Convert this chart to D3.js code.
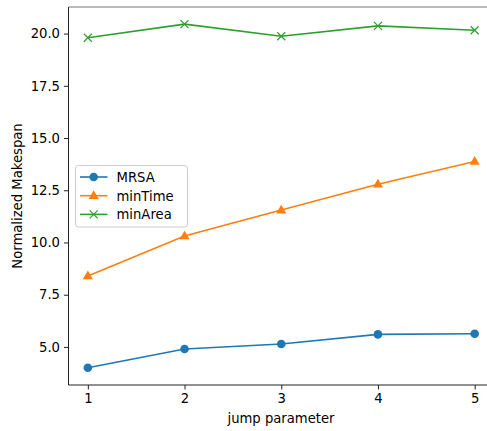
<!DOCTYPE html>
<html>
<head>
<meta charset="utf-8">
<script src="https://cdn.jsdelivr.net/npm/d3@7"></script>
<style>
  html, body { margin: 0; padding: 0; background: #fff; }
  svg { display: block; font-family: "DejaVu Sans", sans-serif; }
</style>
</head>
<body>
<svg id="chart" width="487" height="431"></svg>
<script>
// Jump parameter values on the x axis
const jumps = [1, 2, 3, 4, 5];
// Normalized makespan for each method
const mrsa    = [4.00, 4.90, 5.14, 5.60, 5.63];
const minTime = [8.40, 10.31, 11.55, 12.79, 13.88];
const minArea = [19.80, 20.45, 19.87, 20.37, 20.16];

const xTicks = [1, 2, 3, 4, 5];
const yTicks = [5.0, 7.5, 10.0, 12.5, 15.0, 17.5, 20.0];

const seriesNames = ["MRSA", "minTime", "minArea"];
const seriesColors = ["#1f77b4", "#ff7f0e", "#2ca02c"];
const seriesMarkers = ["circle", "triangle", "x"];

const series = [mrsa, minTime, minArea].map((vals, i) => ({
  name: seriesNames[i],
  color: seriesColors[i],
  marker: seriesMarkers[i],
  points: jumps.map((j, k) => ({ x: j, y: vals[k] }))
}));

const svg = d3.select("#chart");
const plot = { left: 68.5, top: 7, right: 494, bottom: 385 };
const fontSize = 13.2;
const textColor = "#000";

// Axis domains padded by 5% on each side
const allY = [].concat(mrsa, minTime, minArea);
const yMin = d3.min(allY), yMax = d3.max(allY);
const yPad = (yMax - yMin) * 0.05;
const x = d3.scaleLinear().domain([0.8, 5.2]).range([plot.left, plot.right]);
const y = d3.scaleLinear().domain([yMin - yPad, yMax + yPad]).range([plot.bottom, plot.top]);

const axisColor = "#222";

// Axes
const xAxis = svg.append("g")
  .attr("transform", `translate(0,${plot.bottom})`)
  .call(d3.axisBottom(x).tickValues(xTicks).tickFormat(d3.format("d")).tickSizeOuter(0).tickSize(4.5).tickPadding(4));
const yAxis = svg.append("g")
  .attr("transform", `translate(${plot.left},0)`)
  .call(d3.axisLeft(y).tickValues(yTicks).tickFormat(d3.format(".1f")).tickSizeOuter(0).tickSize(4.5).tickPadding(4));

[xAxis, yAxis].forEach(g => {
  g.select(".domain").remove();
  g.selectAll(".tick line").attr("stroke", axisColor).attr("stroke-width", 1);
  g.selectAll(".tick text").attr("fill", textColor).attr("font-size", fontSize)
    .attr("font-family", "DejaVu Sans, sans-serif");
});

// Spines
const spines = svg.append("g").attr("fill", "none").attr("stroke-width", 1);
spines.append("line").attr("stroke", axisColor).attr("x1", plot.left).attr("x2", plot.left).attr("y1", plot.top).attr("y2", plot.bottom);
spines.append("line").attr("stroke", axisColor).attr("x1", plot.left).attr("x2", plot.right).attr("y1", plot.bottom).attr("y2", plot.bottom);
spines.append("line").attr("stroke", "#777").attr("x1", plot.left).attr("x2", plot.right).attr("y1", plot.top).attr("y2", plot.top);
spines.append("line").attr("stroke", axisColor).attr("x1", plot.right).attr("x2", plot.right).attr("y1", plot.top).attr("y2", plot.bottom);

// Axis labels
svg.append("text")
  .attr("x", 281).attr("y", 423)
  .attr("text-anchor", "middle").attr("font-size", fontSize).attr("fill", textColor)
  .text("jump parameter");
svg.append("text")
  .attr("transform", `translate(22,${(plot.top + plot.bottom) / 2}) rotate(-90)`)
  .attr("text-anchor", "middle").attr("font-size", fontSize).attr("fill", textColor)
  .text("Normalized Makespan");

// Marker drawing
function drawMarker(g, type, color, cx, cy, size) {
  if (type === "circle") {
    g.append("circle").attr("cx", cx).attr("cy", cy).attr("r", size / 2).attr("fill", color);
  } else if (type === "triangle") {
    const r = size * 0.62;
    const pts = [[cx, cy - r], [cx + r * 0.95, cy + r * 0.62], [cx - r * 0.95, cy + r * 0.62]];
    g.append("polygon").attr("points", pts.map(p => p.join(",")).join(" ")).attr("fill", color);
  } else {
    const h = size / 2;
    g.append("path")
      .attr("d", `M${cx - h},${cy - h}L${cx + h},${cy + h}M${cx - h},${cy + h}L${cx + h},${cy - h}`)
      .attr("stroke", color).attr("stroke-width", 1.2).attr("fill", "none");
  }
}

const line = d3.line().x(d => x(d.x)).y(d => y(d.y));

const lines = svg.append("g");
series.forEach(s => {
  const g = lines.append("g");
  g.append("path").datum(s.points).attr("d", line)
    .attr("fill", "none").attr("stroke", s.color).attr("stroke-width", 1.6);
  s.points.forEach(p => drawMarker(g, s.marker, s.color, x(p.x), y(p.y), s.marker === "x" ? 8 : 8.6));
});

// Legend
const legend = svg.append("g");
legend.append("rect")
  .attr("x", 75.5).attr("y", 165.5).attr("width", 112).attr("height", 61.5)
  .attr("rx", 3).attr("fill", "#fff").attr("fill-opacity", 0.8)
  .attr("stroke", "#ccc").attr("stroke-width", 1);
series.forEach((s, i) => {
  const ly = 177 + i * 18.7;
  legend.append("line").attr("x1", 80).attr("x2", 107.5).attr("y1", ly).attr("y2", ly)
    .attr("stroke", s.color).attr("stroke-width", 1.6);
  drawMarker(legend, s.marker, s.color, 93.7, ly, s.marker === "x" ? 8 : 8.6);
  legend.append("text").attr("x", 116.5).attr("y", ly + 5)
    .attr("font-size", fontSize).attr("fill", textColor).text(s.name);
});
</script>
</body>
</html>
